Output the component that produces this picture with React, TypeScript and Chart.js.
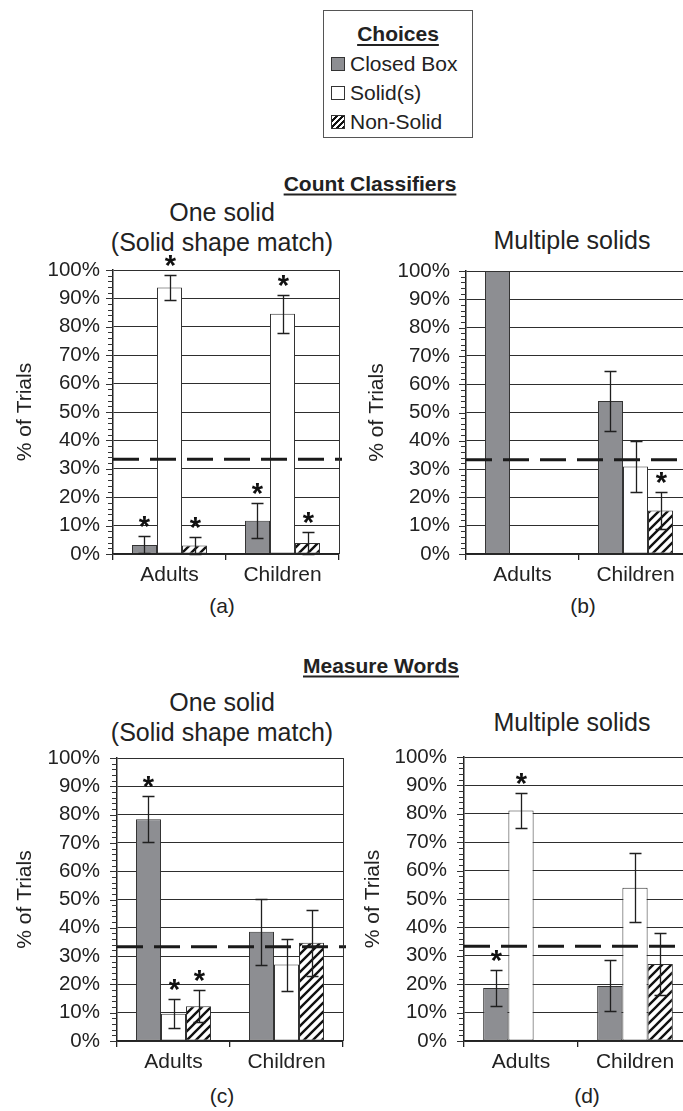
import { useEffect, useRef } from "react";
import { Chart, registerables } from "chart.js";

Chart.register(...registerables);

// ---- data -------------------------------------------------------------
const groups = ["Adults", "Children"];
const choices = ["Closed Box", "Solid(s)", "Non-Solid"];
const chanceLevel = 100 / 3;

// (a) Count classifiers – one solid (solid shape match)
const countOneClosed = [3.2, 11.7];
const countOneSolid = [93.8, 84.6];
const countOneNonSolid = [3.0, 3.9];
const countOneClosedErr = [3.0, 6.1];
const countOneSolidErr = [4.3, 6.7];
const countOneNonSolidErr = [3.1, 3.8];
const countOneClosedStar = [true, true];
const countOneSolidStar = [true, true];
const countOneNonSolidStar = [true, true];

// (b) Count classifiers – multiple solids
const countMultiClosed = [100, 54.1];
const countMultiSolid = [0, 30.9];
const countMultiNonSolid = [0, 15.4];
const countMultiClosedErr = [0, 10.6];
const countMultiSolidErr = [0, 9.0];
const countMultiNonSolidErr = [0, 6.6];
const countMultiClosedStar = [false, false];
const countMultiSolidStar = [false, false];
const countMultiNonSolidStar = [false, true];

// (c) Measure words – one solid (solid shape match)
const measureOneClosed = [78.4, 38.6];
const measureOneSolid = [9.6, 27.0];
const measureOneNonSolid = [12.3, 34.7];
const measureOneClosedErr = [8.0, 11.6];
const measureOneSolidErr = [5.1, 9.2];
const measureOneNonSolidErr = [5.6, 11.7];
const measureOneClosedStar = [true, false];
const measureOneSolidStar = [true, false];
const measureOneNonSolidStar = [true, false];

// (d) Measure words – multiple solids
const measureMultiClosed = [18.7, 19.4];
const measureMultiSolid = [81.2, 54.0];
const measureMultiNonSolid = [0, 27.1];
const measureMultiClosedErr = [6.2, 9.0];
const measureMultiSolidErr = [6.2, 12.1];
const measureMultiNonSolidErr = [0, 10.8];
const measureMultiClosedStar = [true, false];
const measureMultiSolidStar = [true, false];
const measureMultiNonSolidStar = [false, false];

// ---- styling ----------------------------------------------------------
const FONT = "'Liberation Sans', Arial, Helvetica, sans-serif";
const INK = "#222";
const GRAY = "#8d8e92";

function makeHatch(): CanvasPattern | string {
  const s = 9;
  const c = document.createElement("canvas");
  c.width = s;
  c.height = s;
  const g = c.getContext("2d");
  if (!g) return "#fff";
  g.fillStyle = "#fff";
  g.fillRect(0, 0, s, s);
  g.strokeStyle = "#111";
  g.lineWidth = 2.4;
  g.beginPath();
  g.moveTo(-1, s + 1);
  g.lineTo(s + 1, -1);
  g.moveTo(-s / 2 - 1, s / 2 + 1);
  g.lineTo(s / 2 + 1, -s / 2 - 1);
  g.moveTo(s / 2 - 1, s * 1.5 + 1);
  g.lineTo(s * 1.5 + 1, s / 2 - 1);
  g.stroke();
  const p = g.createPattern(c, "repeat");
  return p || "#fff";
}

type Series = { values: number[]; err: number[]; stars: boolean[] };
type PanelData = Series[];

const panelA: PanelData = [
  { values: countOneClosed, err: countOneClosedErr, stars: countOneClosedStar },
  { values: countOneSolid, err: countOneSolidErr, stars: countOneSolidStar },
  { values: countOneNonSolid, err: countOneNonSolidErr, stars: countOneNonSolidStar },
];
const panelB: PanelData = [
  { values: countMultiClosed, err: countMultiClosedErr, stars: countMultiClosedStar },
  { values: countMultiSolid, err: countMultiSolidErr, stars: countMultiSolidStar },
  { values: countMultiNonSolid, err: countMultiNonSolidErr, stars: countMultiNonSolidStar },
];
const panelC: PanelData = [
  { values: measureOneClosed, err: measureOneClosedErr, stars: measureOneClosedStar },
  { values: measureOneSolid, err: measureOneSolidErr, stars: measureOneSolidStar },
  { values: measureOneNonSolid, err: measureOneNonSolidErr, stars: measureOneNonSolidStar },
];
const panelD: PanelData = [
  { values: measureMultiClosed, err: measureMultiClosedErr, stars: measureMultiClosedStar },
  { values: measureMultiSolid, err: measureMultiSolidErr, stars: measureMultiSolidStar },
  { values: measureMultiNonSolid, err: measureMultiNonSolidErr, stars: measureMultiNonSolidStar },
];

// error bars, significance stars, chance line, minor ticks and frame
const decorPlugin = {
  id: "decor",
  afterDatasetsDraw(chart: any) {
    const { ctx, chartArea: a, scales } = chart;
    const y = scales.y;
    ctx.save();

    // chance level
    const yc = y.getPixelForValue(chanceLevel);
    ctx.strokeStyle = "#1a1a1a";
    ctx.lineWidth = 3;
    ctx.setLineDash([26, 11]);
    ctx.beginPath();
    ctx.moveTo(a.left, yc);
    ctx.lineTo(a.right + 3, yc);
    ctx.stroke();
    ctx.setLineDash([]);

    chart.data.datasets.forEach((ds: any, di: number) => {
      const meta = chart.getDatasetMeta(di);
      meta.data.forEach((bar: any, i: number) => {
        const v = ds.data[i];
        const e = ds.err[i];
        const x = Math.round(bar.x) + 0.5;
        let top = y.getPixelForValue(v);
        if (e > 0) {
          const y1 = Math.round(y.getPixelForValue(v + e)) + 0.5;
          const y0 = Math.round(y.getPixelForValue(Math.max(0, v - e))) + 0.5;
          ctx.strokeStyle = "#1f1f1f";
          ctx.lineWidth = 1.3;
          ctx.beginPath();
          ctx.moveTo(x, y0);
          ctx.lineTo(x, y1);
          ctx.moveTo(x - 6, y1);
          ctx.lineTo(x + 6, y1);
          ctx.moveTo(x - 6, y0);
          ctx.lineTo(x + 6, y0);
          ctx.stroke();
          top = y1;
        }
        if (ds.stars[i]) {
          ctx.fillStyle = "#111";
          ctx.font = `bold 29px ${FONT}`;
          ctx.textAlign = "center";
          ctx.textBaseline = "alphabetic";
          ctx.fillText("*", x, top - 1);
        }
      });
    });

    // frame on the right
    ctx.strokeStyle = "#333";
    ctx.lineWidth = 1;
    ctx.beginPath();
    ctx.moveTo(Math.round(a.right) + 0.5, a.top);
    ctx.lineTo(Math.round(a.right) + 0.5, a.bottom);
    ctx.stroke();

    // ruler ticks on the value axis
    ctx.strokeStyle = "#333";
    ctx.lineWidth = 1;
    ctx.beginPath();
    for (let v = 0; v <= 100; v += 2) {
      const py = Math.round(y.getPixelForValue(v)) + 0.5;
      const len = v % 10 === 0 ? 7 : 5;
      ctx.moveTo(a.left - len, py);
      ctx.lineTo(a.left, py);
    }
    ctx.stroke();
    ctx.restore();
  },
};

type PanelProps = {
  data: PanelData;
  left: number;
  top: number;
  width: number;
  height: number;
  tickPad: number;
  titlePad: number;
};

function Panel({ data, left, top, width, height, tickPad, titlePad }: PanelProps) {
  const ref = useRef<HTMLCanvasElement | null>(null);
  useEffect(() => {
    if (!ref.current) return;
    const hatch = makeHatch();
    const fills = [GRAY, "#ffffff", hatch];
    const chart = new Chart(ref.current, {
      type: "bar",
      data: {
        labels: groups,
        datasets: data.map((s, k) => ({
          label: choices[k],
          data: s.values,
          err: s.err,
          stars: s.stars,
          backgroundColor: fills[k],
          borderColor: "#333",
          borderWidth: 1,
          borderSkipped: false,
          categoryPercentage: 0.664,
          barPercentage: 1,
        })) as any,
      },
      options: {
        animation: false,
        responsive: false,
        devicePixelRatio: 1,
        layout: { padding: { left: 0, right: 6, top: 30, bottom: 0 } },
        plugins: {
          legend: { display: false },
          tooltip: { enabled: false },
        },
        scales: {
          x: {
            type: "category",
            offset: true,
            grid: {
              display: true,
              drawOnChartArea: false,
              drawTicks: true,
              tickLength: 6,
              color: "#222",
              lineWidth: 1.3,
              offset: true,
            },
            border: { display: true, color: "#222", width: 1.5 },
            ticks: { font: { family: FONT, size: 21 }, color: INK, padding: 3, maxRotation: 0 },
            afterFit: (s: any) => {
              s.height = 36;
            },
          },
          y: {
            min: 0,
            max: 100,
            ticks: {
              stepSize: 10,
              font: { family: FONT, size: 20.5 },
              color: INK,
              padding: tickPad,
              callback: (v: any) => `${v}%`,
            },
            grid: { color: "#2e2e2e", lineWidth: 1, drawTicks: false },
            border: { display: true, color: "#222", width: 1.5 },
            title: {
              display: true,
              text: "% of Trials",
              font: { family: FONT, size: 21 },
              color: INK,
              padding: { top: titlePad, bottom: 0 },
            },
            afterFit: (s: any) => {
              s.width = 113;
            },
          },
        },
      },
      plugins: [decorPlugin],
    } as any);
    return () => chart.destroy();
  }, [data, tickPad, titlePad]);
  return (
    <div style={{ position: "absolute", left, top, width, height }}>
      <canvas ref={ref} width={width} height={height} style={{ display: "block" }} />
    </div>
  );
}

function Text({
  x,
  y,
  size,
  bold,
  underline,
  children,
}: {
  x: number;
  y: number;
  size: number;
  bold?: boolean;
  underline?: boolean;
  children: any;
}) {
  return (
    <div
      style={{
        position: "absolute",
        left: x,
        top: y,
        transform: "translate(-50%, -50%)",
        whiteSpace: "nowrap",
        fontFamily: FONT,
        fontSize: size,
        lineHeight: 1,
        fontWeight: bold ? 700 : 400,
        textDecoration: underline ? "underline" : "none",
        textDecorationThickness: underline ? 2 : undefined,
        textUnderlineOffset: underline ? 3 : undefined,
        color: INK,
      }}
    >
      {children}
    </div>
  );
}

function Swatch({ kind }: { kind: number }) {
  const bg =
    kind === 0
      ? GRAY
      : kind === 1
      ? "#fff"
      : "repeating-linear-gradient(135deg, #fff 0px, #fff 2.2px, #111 2.2px, #111 4.4px)";
  return (
    <div
      style={{
        width: 12,
        height: 12,
        border: "1px solid #333",
        background: bg,
        boxSizing: "content-box",
      }}
    />
  );
}

function Legend() {
  return (
    <div
      style={{
        position: "absolute",
        left: 323,
        top: 10,
        width: 148,
        height: 126,
        border: "1px solid #555",
        background: "#fff",
      }}
    >
      <div
        style={{
          position: "absolute",
          left: 0,
          right: 0,
          top: 12,
          textAlign: "center",
          fontFamily: FONT,
          fontSize: 21,
          fontWeight: 700,
          lineHeight: 1,
          textDecoration: "underline",
          textDecorationThickness: 2,
          textUnderlineOffset: 3,
          color: INK,
        }}
      >
        Choices
      </div>
      {choices.map((c, k) => (
        <div
          key={c}
          style={{
            position: "absolute",
            left: 7,
            top: 42 + k * 29,
            display: "flex",
            alignItems: "center",
            gap: 5,
            fontFamily: FONT,
            fontSize: 21,
            lineHeight: 1,
            color: INK,
            whiteSpace: "nowrap",
          }}
        >
          <Swatch kind={k} />
          <span>{c}</span>
        </div>
      ))}
    </div>
  );
}

export default function App() {
  return (
    <div
      style={{
        position: "absolute",
        left: 0,
        top: 0,
        width: 683,
        height: 1111,
        overflow: "hidden",
        background: "#fff",
      }}
    >
      <Legend />

      <Text x={370} y={183} size={21} bold underline>
        Count Classifiers
      </Text>
      <Text x={222} y={212} size={25}>
        One solid
      </Text>
      <Text x={222} y={242} size={25}>
        (Solid shape match)
      </Text>
      <Text x={572} y={240} size={25}>
        Multiple solids
      </Text>
      <Panel data={panelA} left={0} top={240} width={345} height={350} tickPad={13} titlePad={13} />
      <Panel data={panelB} left={353} top={241} width={345} height={349} tickPad={16} titlePad={12} />
      <Text x={222} y={605} size={21}>
        (a)
      </Text>
      <Text x={583} y={605} size={21}>
        (b)
      </Text>

      <Text x={381} y={665} size={21} bold underline>
        Measure Words
      </Text>
      <Text x={222} y={702} size={25}>
        One solid
      </Text>
      <Text x={222} y={732} size={25}>
        (Solid shape match)
      </Text>
      <Text x={572} y={722} size={25}>
        Multiple solids
      </Text>
      <Panel data={panelC} left={4} top={728} width={345} height={349} tickPad={17} titlePad={9} />
      <Panel data={panelD} left={351} top={727} width={347} height={350} tickPad={17} titlePad={10} />
      <Text x={222} y={1095} size={21}>
        (c)
      </Text>
      <Text x={587} y={1095} size={21}>
        (d)
      </Text>
    </div>
  );
}
